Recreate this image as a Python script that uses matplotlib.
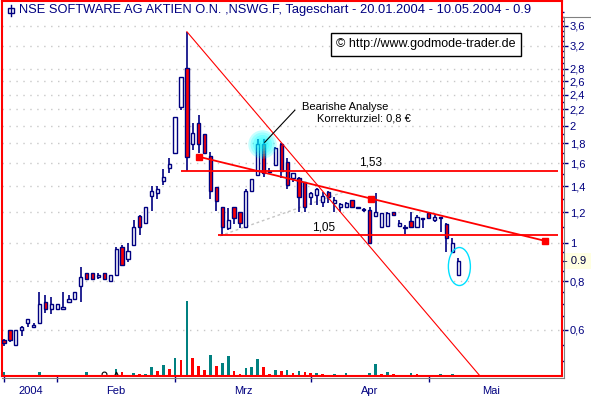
import numpy as np
import matplotlib
matplotlib.use("Agg")
import matplotlib.pyplot as plt
from matplotlib.patches import Ellipse, Rectangle
from matplotlib.lines import Line2D
from matplotlib.ticker import FixedLocator, NullFormatter
from matplotlib.transforms import ScaledTranslation

plt.rcParams['font.family'] = ['Liberation Sans', 'DejaVu Sans']

title = "NSE SOFTWARE AG AKTIEN O.N. ,NSWG.F, Tageschart - 20.01.2004 - 10.05.2004 - 0.9"

# Daily candles, trading days 20.01.2004 - 10.05.2004 (index 0 = 20.01.)
opens = [0.566, 0.598, 0.549, 0.598, 0.626, 0.610, 0.626, 0.706, 0.678, 0.678,
         0.678, 0.706, 0.719, 0.778, 0.838, 0.838, 0.819, 0.838, 0.801, 0.830,
         0.977, 0.910, 0.988, 1.177, 1.125, 1.321, 1.347, 1.446, 1.556, 1.699,
         2.229, 2.805, 1.795, 2.028, 1.901, 1.673, 1.391, 1.241, 1.092, 1.236,
         1.200, 1.103, 1.363, 1.496, 1.795, 1.520, 1.586, 1.795, 1.615, 1.467,
         1.467, 1.438, 1.316, 1.329, 1.273, 1.355, 1.266, 1.236, 1.236, 1.290,
         1.229, 1.220, 1.217, 1.175, 1.103, 1.107, 1.205, 1.107, 1.099, 1.143,
         1.099, 1.159, 1.193, 1.147, 1.160, 1.120, 0.952, 0.830]
highs = [0.568, 0.600, 0.598, 0.612, 0.639, 0.624, 0.749, 0.737, 0.727, 0.699,
         0.749, 0.737, 0.749, 0.871, 0.838, 0.838, 0.838, 0.838, 0.830, 0.980,
         0.990, 1.000, 1.147, 1.181, 1.241, 1.402, 1.402, 1.547, 1.650, 2.109,
         2.660, 3.479, 2.028, 2.130, 1.901, 1.716, 1.395, 1.241, 1.229, 1.236,
         1.200, 1.377, 1.458, 1.846, 1.846, 1.556, 1.767, 1.809, 1.650, 1.516,
         1.481, 1.438, 1.355, 1.383, 1.355, 1.363, 1.316, 1.270, 1.278, 1.290,
         1.241, 1.229, 1.241, 1.343, 1.193, 1.205, 1.205, 1.147, 1.114, 1.205,
         1.181, 1.159, 1.198, 1.181, 1.170, 1.125, 1.030, 0.915]
lows = [0.546, 0.557, 0.549, 0.577, 0.610, 0.610, 0.626, 0.662, 0.658, 0.678,
        0.678, 0.706, 0.719, 0.705, 0.809, 0.809, 0.809, 0.809, 0.801, 0.830,
        0.878, 0.897, 0.988, 1.050, 1.125, 1.212, 1.296, 1.410, 1.511, 1.699,
        2.194, 1.534, 1.733, 1.706, 1.706, 1.295, 1.212, 1.044, 1.081, 1.118,
        1.096, 1.103, 1.363, 1.496, 1.475, 1.511, 1.586, 1.467, 1.375, 1.438,
        1.205, 1.205, 1.253, 1.253, 1.241, 1.266, 1.205, 1.205, 1.236, 1.236,
        1.229, 1.205, 1.000, 1.175, 1.103, 1.107, 1.181, 1.107, 1.056, 1.099,
        1.099, 1.092, 1.159, 1.136, 1.071, 0.952, 0.952, 0.830]
closes = [0.556, 0.566, 0.598, 0.610, 0.639, 0.618, 0.699, 0.678, 0.699, 0.699,
          0.686, 0.719, 0.749, 0.819, 0.809, 0.809, 0.830, 0.809, 0.830, 0.965,
          0.878, 0.957, 1.099, 1.099, 1.241, 1.361, 1.375, 1.475, 1.595, 2.109,
          2.660, 1.666, 1.919, 1.795, 1.706, 1.363, 1.285, 1.103, 1.147, 1.159,
          1.125, 1.361, 1.458, 1.795, 1.516, 1.535, 1.750, 1.534, 1.410, 1.511,
          1.316, 1.241, 1.347, 1.375, 1.321, 1.316, 1.290, 1.261, 1.266, 1.236,
          1.241, 1.215, 1.000, 1.205, 1.193, 1.198, 1.181, 1.129, 1.095, 1.099,
          1.170, 1.155, 1.159, 1.170, 1.165, 1.030, 1.000, 0.900]

# Volume (thousand shares), only days with a visible bar
vol_days = [0, 3, 5, 6, 8, 13, 14, 15, 16, 19, 20, 21, 22, 23, 24, 25, 26, 27, 28,
            29, 30, 31, 32, 33, 34, 35, 36, 37, 38, 39, 40, 41, 42, 43, 44, 45, 46,
            47, 48, 49, 50, 51, 52, 53, 54, 56, 58, 62, 63, 64, 65, 66, 67, 69, 70,
            74, 75, 76]
vol_values = [40, 15, 15, 45, 15, 15, 38, 15, 15, 75, 45, 15, 35, 25, 25, 95, 55, 107, 67,
              177, 157, 747, 177, 97, 57, 207, 97, 127, 197, 47, 17, 77, 87, 167, 87, 17, 57,
              47, 57, 27, 47, 37, 27, 27, 17, 17, 27, 27, 117, 17, 37, 25, 15, 35, 25,
              25, 15, 25]
vol_up = [1, 1, 1, 1, 1, 1, 1, 0, 1, 1, 0, 0, 1, 0, 1, 1, 0, 1, 0,
          1, 0, 1, 0, 0, 0, 1, 0, 1, 1, 0, 0, 1, 1, 1, 0, 0, 1,
          0, 1, 0, 1, 0, 0, 1, 0, 1, 1, 1, 1, 0, 1, 0, 0, 1, 0,
          1, 0, 1]

month_starts = [0, 9, 29, 52, 72, 93]
month_labels = ['2004', 'Feb', 'Mrz', 'Apr', 'Mai']
price_ticks = [0.6, 0.8, 1, 1.2, 1.4, 1.6, 1.8, 2, 2.2, 2.4, 2.6, 2.8, 3.2, 3.6]

# drawn analysis lines (day index, price)
steep_x = [31, 80.7]
steep_y = [3.479, 0.457]
trend_x = [33, 62.3, 91.7]
trend_y = [1.665, 1.30, 1.014]
flag_x = [36.6, 57.8]
flag_y = [1.044, 1.356]
level_hi, level_hi_start = 1.53, 30
level_lo, level_lo_start = 1.05, 36.3
level_end = 93.9
last_price = 0.9

NAVY = '#000080'
RED = '#ff0000'
TEAL = '#008080'

fig = plt.figure(figsize=(5.91, 3.98), dpi=100)
ax = fig.add_axes([2 / 591, 1 - 376 / 398, 560 / 591, 375 / 398])
axv = ax.twinx()
ax.set_zorder(axv.get_zorder() + 1)
ax.patch.set_visible(False)

ax.set_yscale('log')
ax.set_xlim(-0.35, 94.6)
ax.set_ylim(0.457, 4.17)

# volume bars
axv.bar(vol_days, vol_values, width=0.45,
        color=[TEAL if u else RED for u in vol_up], linewidth=0)
axv.set_ylim(0, 3750)
axv.set_yticks([])
for s in axv.spines.values():
    s.set_visible(False)
axv.plot(17, 22, marker='o', ms=3.5, mfc='none', mec='black', mew=0.8)
axv.plot(19, 22, marker='^', ms=3.5, mfc='none', mec='black', mew=0.8)

# candles
days = np.arange(len(closes))
o = np.array(opens)
c = np.array(closes)
up = c >= o
ax.vlines(days, lows, highs, color=NAVY, lw=1.2, zorder=3)
ax.bar(days, np.maximum(np.abs(c - o), 0.004), bottom=np.minimum(o, c), width=0.55,
       color=np.where(up, 'white', RED), edgecolor=NAVY, linewidth=1.0, zorder=4)

# glow on the bearish candles
for s in [420, 300, 190, 100, 40]:
    ax.scatter([43.7], [highs[43] * 0.975], s=s, color='#00ffff', alpha=0.22, lw=0, zorder=4.5)

# analysis lines
ax.plot(steep_x, steep_y, color=RED, lw=0.8, zorder=5)
ax.hlines([level_hi], level_hi_start, level_end, color=RED, lw=1.3, zorder=5)
ax.hlines([level_lo], level_lo_start, level_end, color=RED, lw=1.3, zorder=5)
ax.plot(trend_x, trend_y, color=RED, lw=1.3, marker='s', ms=4, zorder=5)
ax.plot(flag_x, flag_y, color='#c4c4c4', lw=1.0, ls=(0, (2, 2)), zorder=2)

ax.text(62.2, 1.607, '1,53', fontsize=8.5, ha='center', va='center')
ax.text(54.2, 1.10, '1,05', fontsize=8.5, ha='center', va='center')

# annotation
ax.plot([44.2, 49.3], [1.813, 2.19], color='black', lw=0.8, zorder=6)
ax.text(50.6, 2.228, 'Bearishe Analyse', fontsize=8, ha='left', va='center')
ax.text(53.0, 2.08, 'Korrekturziel: 0,8 €', fontsize=8, ha='left', va='center')

# circle around the last candle
trans = fig.dpi_scale_trans + ScaledTranslation(days[-1] + 0.2, np.sqrt(lows[-1] * highs[-1]), ax.transData)
ax.add_patch(Ellipse((0, 0), 0.22, 0.38, transform=trans, fc='none', ec='#00e0ff', lw=1.0, zorder=6))

ax.text(0.757, 0.885, '\u00a9 http://www.godmode-trader.de', transform=ax.transAxes,
        ha='center', va='center', fontsize=9,
        bbox=dict(boxstyle='square,pad=0.45', fc='white', ec='black', lw=1))

# axes styling
for s in ax.spines.values():
    s.set_color(RED)
    s.set_linewidth(1.5)

ax.yaxis.tick_right()
ax.yaxis.set_major_locator(FixedLocator(price_ticks))
ax.set_yticklabels([('%g' % t).replace('.', ',') for t in price_ticks])
minor = [v for v in np.round(np.arange(0.5, 1.0, 0.05), 2)] + [v for v in np.round(np.arange(1.1, 4.0, 0.1), 2)]
minor = [v for v in minor if v not in price_ticks]
ax.yaxis.set_minor_locator(FixedLocator(minor))
ax.yaxis.set_minor_formatter(NullFormatter())
ax.tick_params(axis='y', which='major', colors=NAVY, length=4, width=1, pad=1.5, labelsize=8)
ax.tick_params(axis='y', which='minor', colors=NAVY, length=1.2, width=1)

ax.set_xticks(month_starts[:-1])
ax.set_xticklabels([])
mids = [(month_starts[i] + month_starts[i + 1]) / 2 for i in range(len(month_labels))]
ax.set_xticks(mids, minor=True)
ax.set_xticklabels(month_labels, minor=True)
ax.tick_params(axis='x', which='major', colors=NAVY, length=4, width=1)
ax.tick_params(axis='x', which='minor', length=0, pad=7, labelcolor=NAVY, labelsize=8)

ax.grid(True, axis='y', which='major', color='#c8c8c8', ls=(0, (1, 4)), lw=1.0)
ax.set_axisbelow(True)

# current price marker on the axis
fig.canvas.draw()
yp = ax.transData.transform((0, last_price))[1] / fig.bbox.height
fig.add_artist(Rectangle((563 / 591, yp - 8 / 398), 28 / 591, 16 / 398,
                         transform=fig.transFigure, fc='#ffffe1', ec='none'))
fig.text(564 / 591, yp, '- 0.9', color='#000040', fontsize=8, va='center', ha='left')

# frame lines and title
fig.add_artist(Line2D([563 / 591, 1], [1 - 17 / 398] * 2, color='#808080', lw=0.8))
fig.add_artist(Line2D([564 / 591] * 2, [1 - 17 / 398, 1 - 378 / 398], color='#808080', lw=0.8))
fig.add_artist(Line2D([2 / 591, 564 / 591], [1 - 378 / 398] * 2, color='#808080', lw=0.8))
fig.add_artist(Line2D([11 / 591] * 2, [1 - 5 / 398, 1 - 16 / 398], color=NAVY, lw=1))
fig.add_artist(Rectangle((8 / 591, 1 - 13 / 398), 6 / 591, 5 / 398,
                         transform=fig.transFigure, fc='white', ec=NAVY, lw=1))
fig.text(19 / 591, 1 - 10 / 398, title, color=NAVY, fontsize=9.3, va='center', ha='left')

fig.savefig('out.png', dpi=100)
